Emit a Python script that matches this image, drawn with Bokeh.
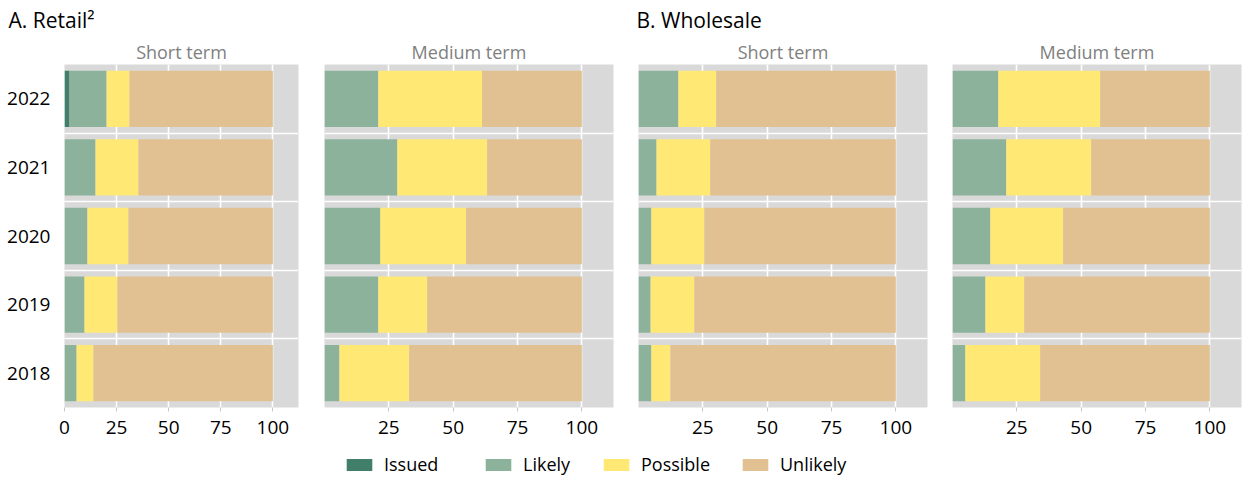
from bokeh.plotting import figure
from bokeh.layouts import row, column
from bokeh.models import (Range1d, FixedTicker, Title, Legend, LegendItem,
                          ColumnDataSource)
from bokeh.embed import file_html
from bokeh.resources import INLINE

# ---------------- data ----------------
years = ["2018", "2019", "2020", "2021", "2022"]
series = ["Issued", "Likely", "Possible", "Unlikely"]
colors = ["#417f6b", "#8db29c", "#ffe974", "#e1c192"]
x_ticks = [0, 25, 50, 75, 100]

# A. Retail - Short term (2018..2022)
retail_short_issued = [0, 0, 0, 0, 2.4]
retail_short_likely = [5.8, 9.6, 11.0, 14.9, 17.8]
retail_short_possible = [8.1, 15.8, 19.7, 20.6, 11.0]
retail_short_unlikely = [86.1, 74.6, 69.3, 64.5, 68.8]

# A. Retail - Medium term
retail_medium_issued = [0, 0, 0, 0, 0]
retail_medium_likely = [5.8, 20.9, 21.7, 28.3, 20.9]
retail_medium_possible = [27.1, 19.0, 33.3, 34.9, 40.3]
retail_medium_unlikely = [67.1, 60.1, 45.0, 36.8, 38.8]

# B. Wholesale - Short term
wholesale_short_issued = [0, 0, 0, 0, 0]
wholesale_short_likely = [5.0, 4.7, 5.0, 7.0, 15.5]
wholesale_short_possible = [7.4, 17.0, 20.6, 20.9, 14.7]
wholesale_short_unlikely = [87.6, 78.3, 74.4, 72.1, 69.8]

# B. Wholesale - Medium term
wholesale_medium_issued = [0, 0, 0, 0, 0]
wholesale_medium_likely = [5.0, 12.8, 14.7, 20.9, 17.8]
wholesale_medium_possible = [29.1, 15.1, 28.3, 33.0, 39.6]
wholesale_medium_unlikely = [65.9, 72.1, 57.0, 46.1, 42.6]

FONT = "Open Sans"
BG = "#d9d9d9"


def make_source(issued, likely, possible, unlikely):
    return ColumnDataSource(dict(y=list(range(len(years))),
                                 Issued=issued, Likely=likely,
                                 Possible=possible, Unlikely=unlikely))


def make_panel(sub, src, width, bl, br, show_y, show_zero,
               big_title="", big_offset=0):
    p = figure(width=width, height=447, x_range=Range1d(0, 112.3),
               y_range=Range1d(-0.5, len(years) - 0.5),
               toolbar_location=None, output_backend="svg",
               min_border_left=bl, min_border_right=br,
               min_border_top=64, min_border_bottom=40)
    p.background_fill_color = BG
    p.border_fill_color = "white"
    p.outline_line_color = None

    p.hbar_stack(series, y="y", height=0.82, color=colors, line_color=None,
                 source=src)

    p.xgrid.ticker = FixedTicker(ticks=x_ticks)
    p.ygrid.ticker = FixedTicker(ticks=[i + 0.5 for i in range(len(years) - 1)])
    for g in (p.xgrid, p.ygrid):
        g.grid_line_color = "white"
        g.grid_line_width = 1.6

    ax = p.xaxis[0]
    ax.ticker = FixedTicker(ticks=x_ticks if show_zero else x_ticks[1:])
    ax.axis_line_color = None
    ax.major_tick_line_color = "#c8c8c8"
    ax.major_tick_out = 4
    ax.major_tick_in = 0
    ax.minor_tick_line_color = None
    ax.major_label_text_font = FONT
    ax.major_label_text_font_size = "19px"
    ax.major_label_text_color = "#000000"
    ax.major_label_standoff = 9

    ay = p.yaxis[0]
    if show_y:
        ay.ticker = FixedTicker(ticks=list(range(len(years))))
        ay.major_label_overrides = {i: y for i, y in enumerate(years)}
        ay.axis_line_color = None
        ay.major_tick_line_color = None
        ay.minor_tick_line_color = None
        ay.major_label_text_font = FONT
        ay.major_label_text_font_size = "19px"
        ay.major_label_text_color = "#000000"
        ay.major_label_standoff = 8
    else:
        ay.visible = False

    # outer (panel) title
    p.title.text = big_title
    p.title.align = "left"
    p.title.offset = big_offset
    p.title.text_font = FONT
    p.title.text_font_size = "21px"
    p.title.text_font_style = "normal"
    p.title.text_color = "#000000"
    p.title.standoff = 7

    # sub title, nearest the frame
    t = Title(text=sub, align="center", text_font=FONT, text_font_size="18px",
              text_font_style="normal", text_color="#7f7f7f", standoff=1)
    p.add_layout(t, "above")
    return p


src1 = make_source(retail_short_issued, retail_short_likely,
                   retail_short_possible, retail_short_unlikely)
src2 = make_source(retail_medium_issued, retail_medium_likely,
                   retail_medium_possible, retail_medium_unlikely)
src3 = make_source(wholesale_short_issued, wholesale_short_likely,
                   wholesale_short_possible, wholesale_short_unlikely)
src4 = make_source(wholesale_medium_issued, wholesale_medium_likely,
                   wholesale_medium_possible, wholesale_medium_unlikely)

p1 = make_panel("Short term", src1, 311, 64, 13, True, True,
                "A. Retail\u00b2", -56)
p2 = make_panel("Medium term", src2, 314, 13, 12, False, False)
p3 = make_panel("Short term", src3, 314, 13, 12, False, False,
                "B. Wholesale", -2)
p4 = make_panel("Medium term", src4, 305, 13, 3, False, False)

# ---------------- legend ----------------
leg = figure(width=1244, height=33, x_range=Range1d(0, 1), y_range=Range1d(0, 1),
             toolbar_location=None, output_backend="svg",
             x_axis_location=None, y_axis_location=None, min_border=0)
leg.outline_line_color = None
leg.grid.visible = False
leg_renderers = leg.hbar_stack(series, y="y", height=0.82, color=colors,
                               line_color=None, source=src1)
legend_x = [343, 482, 600, 739]
for name, r, lx in zip(series, leg_renderers, legend_x):
    r.visible = False
    L = Legend(items=[LegendItem(label=name, renderers=[r])], location=(lx, 4),
               glyph_width=32, glyph_height=15, label_standoff=9, padding=0,
               margin=0, border_line_color=None, background_fill_alpha=0,
               label_text_font=FONT, label_text_font_size="18px",
               label_text_color="#000000", click_policy="none")
    leg.add_layout(L)

layout = column(row(p1, p2, p3, p4), leg)
open("out.html", "w").write(file_html(layout, INLINE))
